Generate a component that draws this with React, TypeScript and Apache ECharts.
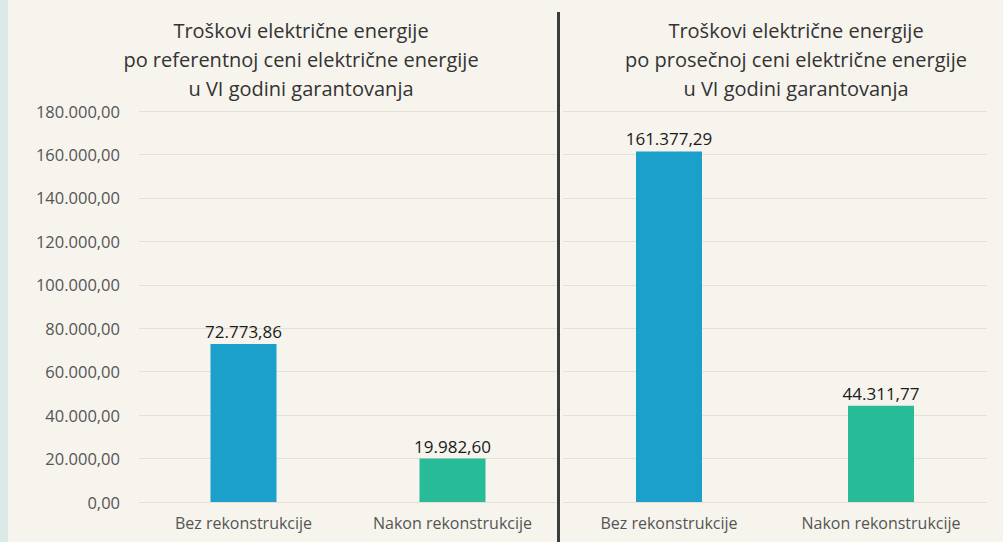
import React, { useEffect, useRef } from "react";
import * as echarts from "echarts";

const categories = ["Bez rekonstrukcije", "Nakon rekonstrukcije"];
const referentValues = [72773.86, 19982.6];
const averageValues = [161377.29, 44311.77];
const titleLeft = "Troškovi električne energije\npo referentnoj ceni električne energije\nu VI godini garantovanja";
const titleRight = "Troškovi električne energije\npo prosečnoj ceni električne energije\nu VI godini garantovanja";
const barColors = ["#1b9fcb", "#27bb98"];

function fmt(v: number): string {
  const fixed = v.toFixed(2);
  const [intPart, dec] = fixed.split(".");
  const withDots = intPart.replace(/\B(?=(\d{3})+(?!\d))/g, ".");
  return withDots + "," + dec;
}

const FONT = "Open Sans";

export default function App() {
  const ref = useRef<HTMLDivElement>(null);
  useEffect(() => {
    if (!ref.current) return;
    const chart = echarts.init(ref.current, undefined, { renderer: "svg" });
    const makeData = (vals: number[]) =>
      vals.map((v, i) => ({ value: v, itemStyle: { color: barColors[i] } }));
    const xAxisCommon = {
      type: "category" as const,
      data: categories,
      axisLine: { show: false },
      axisTick: { show: false },
      axisLabel: { color: "#555", fontSize: 16, fontFamily: FONT, margin: 13 },
    };
    const yAxisCommon = {
      type: "value" as const,
      min: 0,
      max: 180000,
      interval: 20000,
      splitLine: { lineStyle: { color: "#e4e1d8", width: 1 } },
      axisLine: { show: false },
      axisTick: { show: false },
    };
    const labelCommon = {
      show: true,
      position: "top" as const,
      distance: 4,
      color: "#1a1a1a",
      fontSize: 17,
      fontFamily: FONT,
      formatter: (p: any) => fmt(p.value),
    };
    const titleStyle = { fontSize: 20, fontWeight: "normal" as const, color: "#333", lineHeight: 29, fontFamily: FONT };
    chart.setOption({
      animation: false,
      backgroundColor: "#f6f4ed",
      title: [
        { text: titleLeft, left: 296, top: 11, textAlign: "center", textStyle: titleStyle },
        { text: titleRight, left: 791, top: 11, textAlign: "center", textStyle: titleStyle },
      ],
      grid: [
        { left: 139, top: 111, width: 418, height: 391 },
        { left: 563, top: 111, width: 424, height: 391 },
      ],
      xAxis: [
        { ...xAxisCommon, gridIndex: 0 },
        { ...xAxisCommon, gridIndex: 1 },
      ],
      yAxis: [
        {
          ...yAxisCommon,
          gridIndex: 0,
          axisLabel: { color: "#555", fontSize: 16.5, fontFamily: FONT, margin: 19, formatter: (v: number) => fmt(v) },
        },
        { ...yAxisCommon, gridIndex: 1, axisLabel: { show: false } },
      ],
      series: [
        {
          type: "bar",
          xAxisIndex: 0,
          yAxisIndex: 0,
          data: makeData(referentValues),
          barWidth: 66,
          label: labelCommon,
        },
        {
          type: "bar",
          xAxisIndex: 1,
          yAxisIndex: 1,
          data: makeData(averageValues),
          barWidth: 66,
          label: labelCommon,
        },
      ],
      graphic: [
        { type: "rect", shape: { x: 0, y: 0, width: 8, height: 542 }, style: { fill: "#dbe9e7" } },
        { type: "rect", shape: { x: 557, y: 12, width: 3, height: 530 }, style: { fill: "#3a3d3c" } },
      ],
    });
    return () => chart.dispose();
  }, []);
  return (
    <div
      ref={ref}
      style={{ position: "fixed", left: 0, top: 0, width: 1003, height: 542 }}
    />
  );
}
